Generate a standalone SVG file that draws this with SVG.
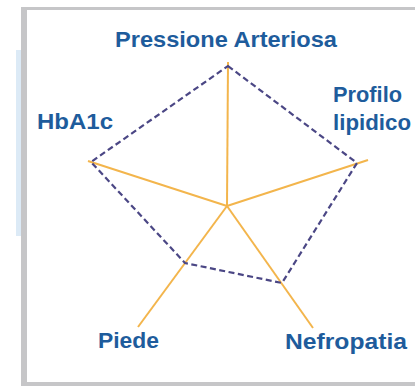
<svg xmlns="http://www.w3.org/2000/svg" width="415" height="386" viewBox="0 0 415 386">
<style>
.lbl{font-family:"Liberation Sans",Arial,sans-serif;font-weight:bold;font-size:22px;fill:#1e5c9c}
.axis{stroke:#f3b54c;stroke-width:2;fill:none}
.dash{stroke:#4b4785;stroke-width:2.2;fill:none;stroke-dasharray:6 3.5}
</style>
<rect x="0" y="0" width="415" height="386" fill="#ffffff"/>
<rect x="16" y="50" width="6" height="186" fill="#dceaf6"/>
<rect x="21" y="7" width="400" height="377" fill="#ffffff" stroke="none"/>
<rect x="21" y="7" width="6" height="379" fill="#c6c6c8"/>
<rect x="21" y="7" width="400" height="3" fill="#c6c6c8"/>
<rect x="21" y="382" width="400" height="4" fill="#c6c6c8"/>
<g id="connectors">
<line class="axis" x1="227" y1="206" x2="228" y2="62"/>
<line class="axis" x1="227" y1="206" x2="88" y2="161"/>
<line class="axis" x1="227" y1="206" x2="368" y2="160"/>
<line class="axis" x1="227" y1="206" x2="138" y2="327"/>
<line class="axis" x1="227" y1="206" x2="313" y2="328"/>
<polygon class="dash" points="228,66 357,163 282,283 185,263 91,162"/>
</g>
<g id="pressione"><text class="lbl" x="115" y="47" textLength="222" lengthAdjust="spacingAndGlyphs">Pressione Arteriosa</text></g>
<g id="hba1c"><text class="lbl" x="37" y="129" textLength="76" lengthAdjust="spacingAndGlyphs">HbA1c</text></g>
<g id="profilo"><text class="lbl" x="333" y="102" textLength="69" lengthAdjust="spacingAndGlyphs">Profilo</text><text class="lbl" x="333" y="130" textLength="78" lengthAdjust="spacingAndGlyphs">lipidico</text></g>
<g id="piede"><text class="lbl" x="98" y="348" textLength="61" lengthAdjust="spacingAndGlyphs">Piede</text></g>
<g id="nefropatia"><text class="lbl" x="285" y="349" textLength="122" lengthAdjust="spacingAndGlyphs">Nefropatia</text></g>
</svg>
